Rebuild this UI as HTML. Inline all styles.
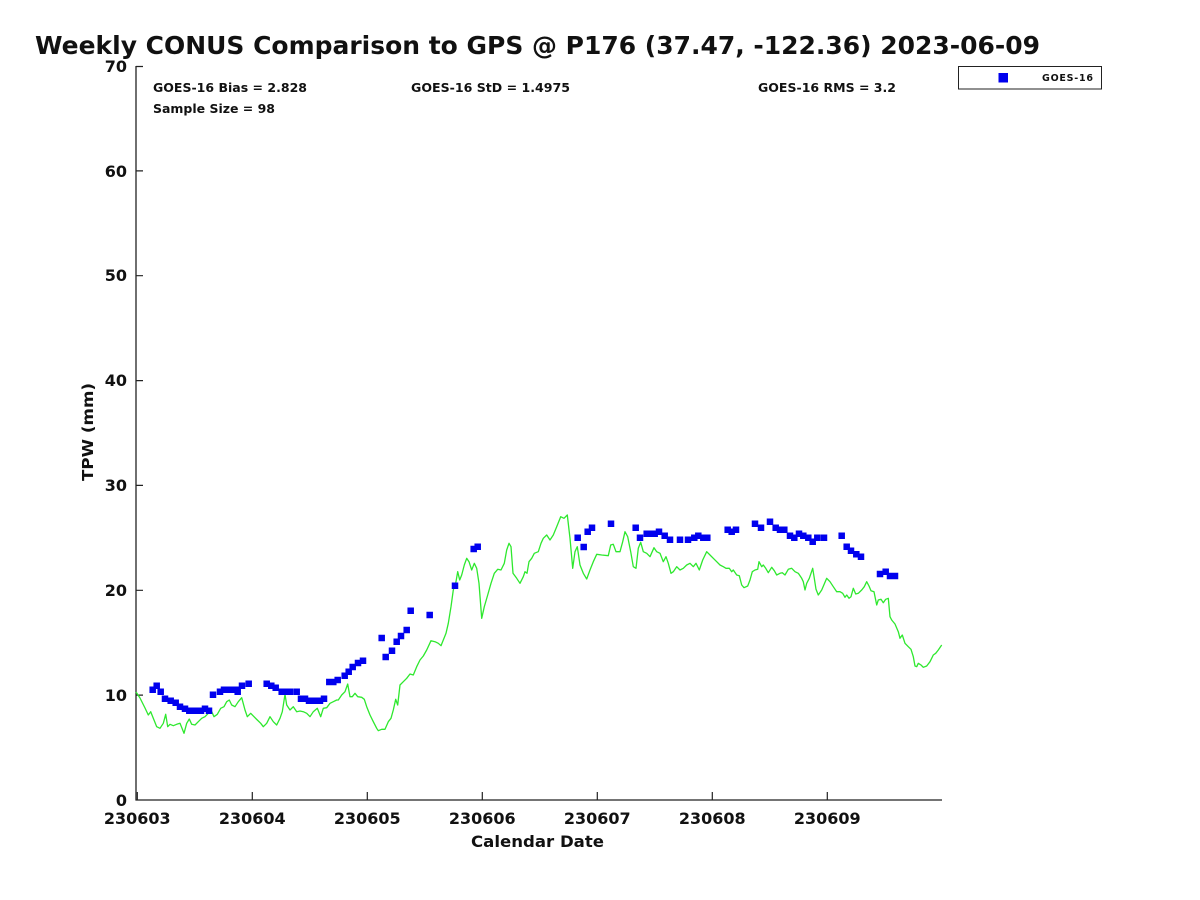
<!DOCTYPE html>
<html><head><meta charset="utf-8"><style>
html,body{margin:0;padding:0;background:#fff;}
svg{display:block;}
text{font-family:"DejaVu Sans","Liberation Sans",sans-serif;font-weight:bold;fill:#111;}
</style></head><body>
<svg width="1200" height="900" viewBox="0 0 1200 900" xmlns="http://www.w3.org/2000/svg">
<rect width="1200" height="900" fill="#fff"/>
<text x="35" y="54" font-size="25" textLength="1005" lengthAdjust="spacingAndGlyphs" fill="#000">Weekly CONUS Comparison to GPS @ P176 (37.47, -122.36) 2023-06-09</text>
<path d="M136 66V800.5M135.5 800H942" fill="none" stroke="#222" stroke-width="1.3"/>
<path d="M136 695.1h7M136 590.3h7M136 485.4h7M136 380.6h7M136 275.7h7M136 170.9h7M136 66.5h7M137.3 800v-8M252.3 800v-8M367.3 800v-8M482.3 800v-8M597.3 800v-8M712.3 800v-8M827.3 800v-8" fill="none" stroke="#222" stroke-width="1.2"/>
<g font-size="16" text-anchor="end">
<text x="127" y="806">0</text>
<text x="127" y="701">10</text>
<text x="127" y="596">20</text>
<text x="127" y="491">30</text>
<text x="127" y="386">40</text>
<text x="127" y="281">50</text>
<text x="127" y="177">60</text>
<text x="127" y="72">70</text>
</g>
<g font-size="16" text-anchor="middle">
<text x="137.3" y="824">230603</text>
<text x="252.3" y="824">230604</text>
<text x="367.3" y="824">230605</text>
<text x="482.3" y="824">230606</text>
<text x="597.3" y="824">230607</text>
<text x="712.3" y="824">230608</text>
<text x="827.3" y="824">230609</text>
</g>
<text x="471" y="847" font-size="16" textLength="133" lengthAdjust="spacingAndGlyphs">Calendar Date</text>
<text transform="translate(93,481) rotate(-90)" font-size="15" textLength="98" lengthAdjust="spacingAndGlyphs">TPW (mm)</text>
<g font-size="12">
<text x="153" y="92" textLength="154" lengthAdjust="spacingAndGlyphs">GOES-16 Bias = 2.828</text>
<text x="153" y="113" textLength="122" lengthAdjust="spacingAndGlyphs">Sample Size = 98</text>
<text x="411" y="92" textLength="159" lengthAdjust="spacingAndGlyphs">GOES-16 StD = 1.4975</text>
<text x="758" y="92" textLength="138" lengthAdjust="spacingAndGlyphs">GOES-16 RMS = 3.2</text>
</g>
<rect x="958.5" y="66.5" width="143" height="22.5" fill="#fff" stroke="#222" stroke-width="1"/>
<rect x="998.5" y="73" width="9.5" height="9.5" fill="#0000ee"/>
<text x="1042" y="81" font-size="9.5" textLength="51" lengthAdjust="spacing">GOES-16</text>
<polyline fill="none" stroke="#2ee82e" stroke-width="1.3" stroke-linejoin="round" points="136,692 140,698 145,708 148.3,715 150.7,711.7 153.3,718.3 156.7,726.7 160,728.3 163.3,723.3 165.7,714.3 167.7,726.7 170,724.3 173.3,725.7 176.7,724.3 180,723.3 184,733.3 186.7,723.3 189.3,719 191.7,724.3 195,725 198.3,721.7 201.7,718.3 205,716.7 208.3,713.3 211.7,711.7 214,716.7 217.3,714.3 220.7,708.3 224,706.7 226.7,701.7 229.3,700 231.7,705 235,706.7 238.3,701.7 241.7,697.7 245,710 247.3,716.7 250.7,713.3 254,716.7 257.3,720 260.7,723.3 263.3,726.7 266.7,723.3 270,716.7 273.3,721.7 276.7,725 280,718.3 282.3,711.7 285,694.3 286.7,705 290,710 293.3,706.7 296.7,711.7 300,711 303.3,711.7 306.7,713.3 310,716.7 313.3,711.7 317.3,708.3 320.7,716.7 323.3,708.3 326.7,707.7 330,703.3 333.3,701.7 336.7,700 338.3,700 341.7,695 345,691.7 347.7,684 350,696.7 352.3,696.7 355,693.3 357.7,696.7 361.7,697.3 364.3,699.3 366.7,706.7 370,715 373.3,721.7 376.7,728.3 378.3,730.7 381.7,729.3 385,729.3 388.3,721.7 391,718.3 393.3,710 395.7,699.3 397.7,705 400,685 403.3,681.7 406.7,678.3 410,674 413.3,675 416.7,666.7 420,660 423.3,656 426.7,650 431,640.7 435,641.7 438.3,643.3 441,645.7 443.3,640 446,633.3 448.3,623.3 451,606.7 453.3,590 455.7,583.3 457.7,571.7 459.7,580 461.7,575 464.3,565 466.7,558.3 469,561.7 471.7,570 474.3,563.3 476.7,568.3 479,583.3 481.7,618.3 484.3,606.7 487.7,595 491,583.3 494.3,573.3 497.7,569.3 501,570 504.3,563.3 506.7,550 509,543.3 511,546.7 513,573.3 516.7,578.3 520,583.3 523.3,576.7 525,571.7 527,573.3 529,561.7 531.7,558.3 534.3,553.3 538.3,551.7 541,543.3 543.3,538.3 546.7,535 550,540 553.3,535 556.7,526.7 560.7,516.7 564,518.3 567.3,515 570,538.3 572.7,568.3 575,551.7 577.3,546.7 580,565 583.3,573.3 586.7,579 590,570 593.3,561.7 596.7,554.3 601.7,555 608.3,555.7 610.7,545 613.3,544.3 616,551.7 620,551.7 622.7,541.7 625,531.7 627.7,536.7 630.7,551.7 633.3,566.7 636,568.3 638.3,548.3 640.7,542.3 643.3,551.7 646.7,553.3 650,556.7 654,547.7 656.7,551.7 660,553.3 663.3,561.7 666,556.7 668.3,563.3 671,573.3 673.3,571.7 676.7,566.7 680,570 683.3,568.3 686.7,565 690,563.3 693.3,566.7 696,563.3 699.3,570 702.7,560 706.7,551.7 710,555 713.3,558.3 716.7,561.7 720,565 723.3,566.7 726,568.3 729.3,568.3 731.7,571.7 733.3,570 736.7,575 739.3,575.7 741.7,585 744,587.7 747.7,586 750,580 752.3,571.7 755,570 757.7,569.3 759,561.7 761.7,566.7 763.3,565 765.7,568.3 768.3,572.7 771.7,567.3 774.3,570.7 776.7,575 780,573.3 782.3,572.7 785,575 788.3,569.3 791.7,568.3 795,571.7 798.3,573.3 801.7,578.3 803.3,581.7 805,590 806.7,583.3 809.3,578.3 812.7,568.3 814.3,578.3 816,589.3 818.3,595 821.7,590 826.7,578.3 830,581.7 833.3,586.7 836.7,591.7 840,591.7 842.7,593.3 845,597.3 846.7,595 849,598.3 851,596.7 853.3,588.3 855.7,594 858.3,593.3 861.7,590 864.3,586.7 866.7,581.7 869,586 871,590.7 874,591.7 876.7,605 878.3,600 881,599.3 883.3,602.7 885.7,599.3 888.3,598.3 890,616.7 891.7,620 895,624 898.3,631.7 900,638.3 902.3,635 905,643.3 908.3,646.7 911,649.3 913.3,656.7 915,666 916.7,666.7 918.3,663.3 921,665 923.3,667.3 926.7,666 930,661.7 933.3,655 935.7,653.3 938.3,650 941.7,645"/>
<path fill="none" stroke="#0000ee" stroke-width="6.5" stroke-linecap="square" d="M152.7 689.7h0M156.7 685.7h0M160.7 691.7h0M165 698.7h0M170.7 700.7h0M175.7 702.7h0M180 706.7h0M185 708.7h0M189.3 710.7h0M193.3 710.7h0M197.3 710.7h0M201 710.7h0M205 708.7h0M209 710.7h0M213 694.7h0M220 691.7h0M224 689.7h0M228 689.7h0M232 689.7h0M235.7 689.7h0M237.7 691.7h0M242 685.7h0M248.7 683.7h0M266.7 683.7h0M271.3 685.7h0M275.7 687.7h0M281.7 691.7h0M285.7 691.7h0M290 691.7h0M296.7 691.7h0M301 698.7h0M305 698.7h0M309 700.7h0M313.3 700.7h0M317.3 700.7h0M320 700.7h0M324 698.7h0M329.3 682h0M333.3 682h0M337.7 680h0M344.7 675.7h0M348.7 671.7h0M352.7 667h0M358 663h0M363 660.7h0M381.7 638h0M385.7 657h0M392 650.7h0M396.7 641.7h0M401 636h0M406.7 630h0M410.7 610.7h0M429.7 615h0M455 585.7h0M473.7 549h0M477.7 546.7h0M577.7 537.7h0M583.7 547h0M587.7 531.7h0M592 527.7h0M611 523.7h0M635.7 527.7h0M640 537.7h0M646.7 533.7h0M650.7 533.7h0M654.7 533.7h0M659 531.7h0M664.7 535.7h0M670 539.7h0M680 539.7h0M688 539.7h0M694.3 537.7h0M698.3 535.7h0M703.3 537.7h0M707.3 537.7h0M727.7 529.7h0M731.7 531.7h0M736 529.7h0M755 523.7h0M761 527.7h0M770 521.7h0M775.7 527.7h0M780 529.7h0M784.3 529.7h0M790 535.7h0M794.3 537.7h0M799 533.7h0M803.3 535.7h0M808.3 537.7h0M812.7 541.7h0M817.3 537.7h0M824 537.7h0M841.7 535.7h0M846.7 546.7h0M851 550.7h0M856.3 554.3h0M861 556.7h0M880 574h0M885.7 571.7h0M890 576h0M895 576h0"/>
</svg>
</body></html>
